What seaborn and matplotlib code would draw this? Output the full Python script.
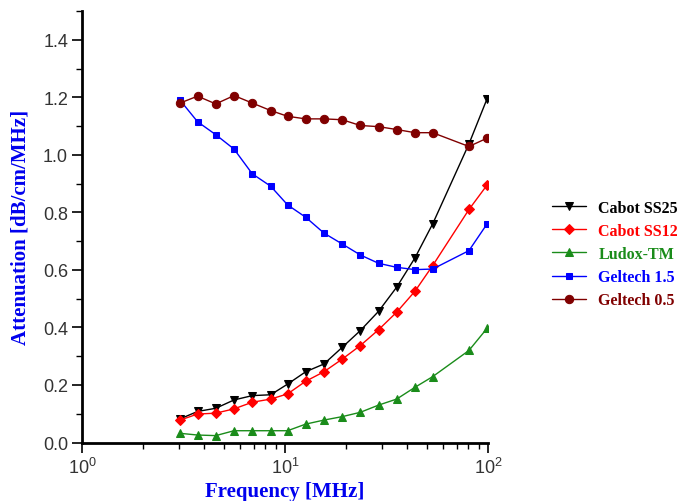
import matplotlib
matplotlib.use('Agg')
import matplotlib.pyplot as plt
import seaborn as sns
import pandas as pd
from matplotlib.ticker import LogLocator, LogFormatterMathtext, MultipleLocator, FormatStrFormatter, NullFormatter

# ---- data ----
freq = [3.04, 3.71, 4.56, 5.61, 6.90, 8.50, 10.3, 12.65, 15.56, 19.15,
        23.5, 28.9, 35.5, 43.7, 53.4, 80.6, 99.0]
cabot_ss25 = [0.082, 0.108, 0.119, 0.148, 0.163, 0.166, 0.203, 0.246, 0.273, 0.331,
              0.389, 0.456, 0.540, 0.642, 0.760, 1.038, 1.195]
cabot_ss12 = [0.078, 0.099, 0.102, 0.117, 0.140, 0.151, 0.169, 0.213, 0.246, 0.290,
              0.337, 0.392, 0.453, 0.526, 0.615, 0.810, 0.895]
ludox_tm = [0.032, 0.026, 0.024, 0.041, 0.041, 0.041, 0.041, 0.064, 0.078, 0.090,
            0.105, 0.130, 0.151, 0.192, 0.229, 0.320, 0.397]
geltech_15 = [1.190, 1.115, 1.070, 1.020, 0.934, 0.891, 0.826, 0.783, 0.728, 0.690,
              0.652, 0.623, 0.609, 0.601, 0.603, 0.667, 0.760]
geltech_05 = [1.180, 1.204, 1.177, 1.206, 1.180, 1.154, 1.134, 1.125, 1.125, 1.122,
              1.102, 1.098, 1.088, 1.077, 1.077, 1.029, 1.058]

series_names = ["Cabot SS25", "Cabot SS12", "Ludox-TM", "Geltech 1.5", "Geltech 0.5"]
series_values = [cabot_ss25, cabot_ss12, ludox_tm, geltech_15, geltech_05]
colors = ["#000000", "#FF0000", "#1A8C1A", "#0000FF", "#800000"]
markers = ["v", "D", "^", "s", "o"]
msizes = [6.0, 5.0, 5.5, 5.0, 6.0]

sns.set_style("white")
plt.rcParams['font.family'] = ['Liberation Sans', 'DejaVu Sans']
plt.rcParams['mathtext.fontset'] = 'custom'
plt.rcParams['mathtext.rm'] = 'Liberation Sans'

fig = plt.figure(figsize=(6.8, 5.02), dpi=100)
ax = fig.add_axes([0.1206, 0.1165, 0.597, 0.8596])

rows = []
for name, vals in zip(series_names, series_values):
    for f, v in zip(freq, vals):
        rows.append({"Frequency": f, "Attenuation": v, "Series": name})
df = pd.DataFrame(rows)

for name, col, mk, ms in zip(series_names, colors, markers, msizes):
    sub = df[df["Series"] == name]
    sns.lineplot(data=sub, x="Frequency", y="Attenuation", ax=ax, color=col,
                 marker=mk, markersize=ms, markeredgecolor=col, markerfacecolor=col,
                 linewidth=1.0, label=name, sort=False)

ax.set_xscale('log')
ax.set_xlim(1, 100)
ax.set_ylim(0, 1.5)

ax.xaxis.set_major_locator(LogLocator(base=10, numticks=5))
ax.xaxis.set_minor_locator(LogLocator(base=10, subs=range(2, 10), numticks=20))
ax.xaxis.set_major_formatter(LogFormatterMathtext())
ax.xaxis.set_minor_formatter(NullFormatter())
ax.yaxis.set_minor_locator(MultipleLocator(0.1))
ax.set_yticks([0, 0.2, 0.4, 0.6, 0.8, 1.0, 1.2, 1.4])
ax.yaxis.set_major_formatter(FormatStrFormatter('%.1f'))

for s in ['top', 'right']:
    ax.spines[s].set_visible(False)
for s in ['left', 'bottom']:
    ax.spines[s].set_linewidth(2.0)
    ax.spines[s].set_color('black')

ax.tick_params(axis='both', which='major', direction='out', length=7, width=1.2,
               color='black', labelsize=13, labelcolor='#333333', pad=3)
ax.tick_params(axis='both', which='minor', direction='out', length=4, width=1.0, color='black')
ax.tick_params(axis='x', which='both', bottom=True)
ax.tick_params(axis='y', which='both', left=True)

lab_font = dict(family=['Liberation Serif', 'DejaVu Serif'], weight='bold', size=15, color='#0000EE')
ax.set_xlabel("Frequency [MHz]", labelpad=3, **lab_font)
ax.set_ylabel("Attenuation [dB/cm/MHz]", labelpad=9, **lab_font)

handles, labels = ax.get_legend_handles_labels()
if ax.get_legend():
    ax.get_legend().remove()
leg = fig.legend(handles, labels, loc='center left', bbox_to_anchor=(0.812, 0.492),
                 frameon=False, borderpad=0, borderaxespad=0, handlelength=2.1,
                 handletextpad=0.8, labelspacing=0.45,
                 prop={'family': ['Liberation Serif', 'DejaVu Serif'], 'weight': 'bold', 'size': 11.5})
for txt, col in zip(leg.get_texts(), colors):
    txt.set_color(col)

fig.savefig("out.png", dpi=100)
